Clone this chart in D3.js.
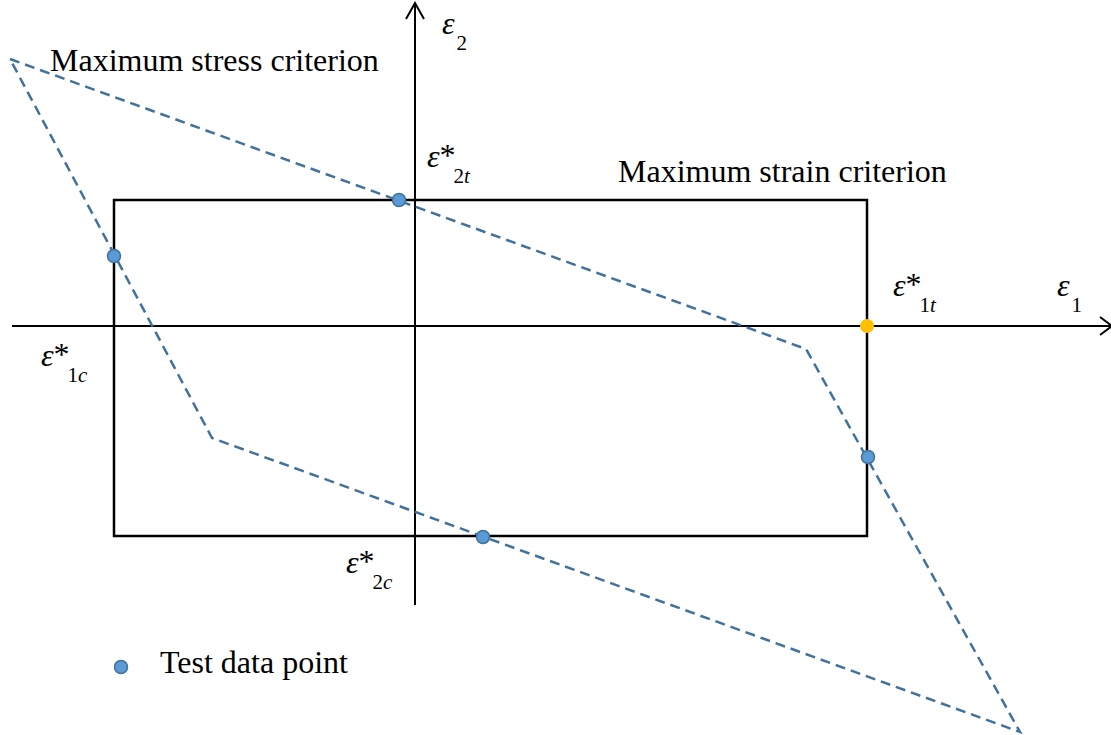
<!DOCTYPE html>
<html>
<head>
<meta charset="utf-8">
<script src="https://cdn.jsdelivr.net/npm/d3@7"></script>
<style>
  html, body { margin: 0; padding: 0; background: #fff; }
</style>
</head>
<body>
<script>
// strain space, arbitrary units (origin at the axis crossing)
const rectBounds = { e1c: -3.01, e1t: 4.52, e2c: -2.10, e2t: 1.26 };
const stressPolygon = [[-4.05, 2.67], [3.91, -0.23], [6.05, -4.06], [-2.03, -1.12]];
const testPoints = [[-0.16, 1.26], [-3.01, 0.70], [4.53, -1.31], [0.68, -2.11]];
const failurePoint = [4.52, 0];
const xAxisExtent = [-4.03, 6.97];
const yAxisExtent = [-2.79, 3.23];

const width = 1111, height = 735;

const x = d3.scaleLinear().domain([-4.15, 6.96]).range([0, width]);
const y = d3.scaleLinear().domain([3.26, -4.09]).range([0, height]);

const svg = d3.select('body').append('svg')
    .attr('width', width)
    .attr('height', height)
    .attr('font-family', 'Liberation Serif');

// axes
const axes = svg.append('g')
    .attr('stroke', '#000')
    .attr('stroke-width', 2)
    .attr('fill', 'none');

axes.append('line')
    .attr('x1', x(xAxisExtent[0])).attr('x2', x(xAxisExtent[1]))
    .attr('y1', y(0)).attr('y2', y(0));
axes.append('path')
    .attr('d', `M${x(xAxisExtent[1]) - 12},${y(0) - 9}L${x(xAxisExtent[1])},${y(0)}L${x(xAxisExtent[1]) - 12},${y(0) + 9}`);

axes.append('line')
    .attr('x1', x(0)).attr('x2', x(0))
    .attr('y1', y(yAxisExtent[0])).attr('y2', y(yAxisExtent[1]));
axes.append('path')
    .attr('d', `M${x(0) - 9},${y(yAxisExtent[1]) + 16}L${x(0)},${y(yAxisExtent[1])}L${x(0) + 9},${y(yAxisExtent[1]) + 16}`);

// maximum strain criterion
svg.append('rect')
    .attr('x', x(rectBounds.e1c))
    .attr('y', y(rectBounds.e2t))
    .attr('width', x(rectBounds.e1t) - x(rectBounds.e1c))
    .attr('height', y(rectBounds.e2c) - y(rectBounds.e2t))
    .attr('fill', 'none')
    .attr('stroke', '#000')
    .attr('stroke-width', 2.5);

// maximum stress criterion
const line = d3.line().x(d => x(d[0])).y(d => y(d[1])).curve(d3.curveLinearClosed);
svg.append('path')
    .attr('d', line(stressPolygon))
    .attr('fill', 'none')
    .attr('stroke', '#41719c')
    .attr('stroke-width', 2.5)
    .attr('stroke-dasharray', '10,6');

// data points
svg.selectAll('circle.test')
    .data(testPoints)
    .join('circle')
    .attr('class', 'test')
    .attr('cx', d => x(d[0]))
    .attr('cy', d => y(d[1]))
    .attr('r', 6.5)
    .attr('fill', '#5b9bd5')
    .attr('stroke', '#41719c')
    .attr('stroke-width', 1.5);

svg.append('circle')
    .attr('cx', x(failurePoint[0]))
    .attr('cy', y(failurePoint[1]))
    .attr('r', 7)
    .attr('fill', '#ffc000');

// labels
svg.append('text')
    .attr('x', 50).attr('y', 71)
    .attr('font-size', 32)
    .text('Maximum stress criterion');

svg.append('text')
    .attr('x', 618).attr('y', 182)
    .attr('font-size', 32)
    .text('Maximum strain criterion');

// strain symbols: [x, y, star, subscript]
const symbolLabels = [
  [442, 34, false, '2'],
  [427, 167, true, '2t'],
  [893, 296, true, '1t'],
  [1057, 296, false, '1'],
  [41, 366, true, '1c'],
  [346, 573, true, '2c']
];

symbolLabels.forEach(([lx, ly, star, sub]) => {
  const t = svg.append('text')
      .attr('x', lx).attr('y', ly)
      .attr('font-size', 32);
  t.append('tspan').attr('font-style', 'italic').text('ε');
  if (star) t.append('tspan').attr('dy', -1).text('*');
  const subT = t.append('tspan')
      .attr('dy', star ? 17 : 16)
      .attr('dx', star ? -2 : 2)
      .attr('font-size', 21);
  subT.append('tspan').text(sub[0]);
  if (sub.length > 1) subT.append('tspan').attr('font-style', 'italic').text(sub.slice(1));
});

// legend
svg.append('circle')
    .attr('cx', 121).attr('cy', 667)
    .attr('r', 6.5)
    .attr('fill', '#5b9bd5')
    .attr('stroke', '#41719c')
    .attr('stroke-width', 1.5);
svg.append('text')
    .attr('x', 160).attr('y', 673)
    .attr('font-size', 32)
    .text('Test data point');
</script>
</body>
</html>
